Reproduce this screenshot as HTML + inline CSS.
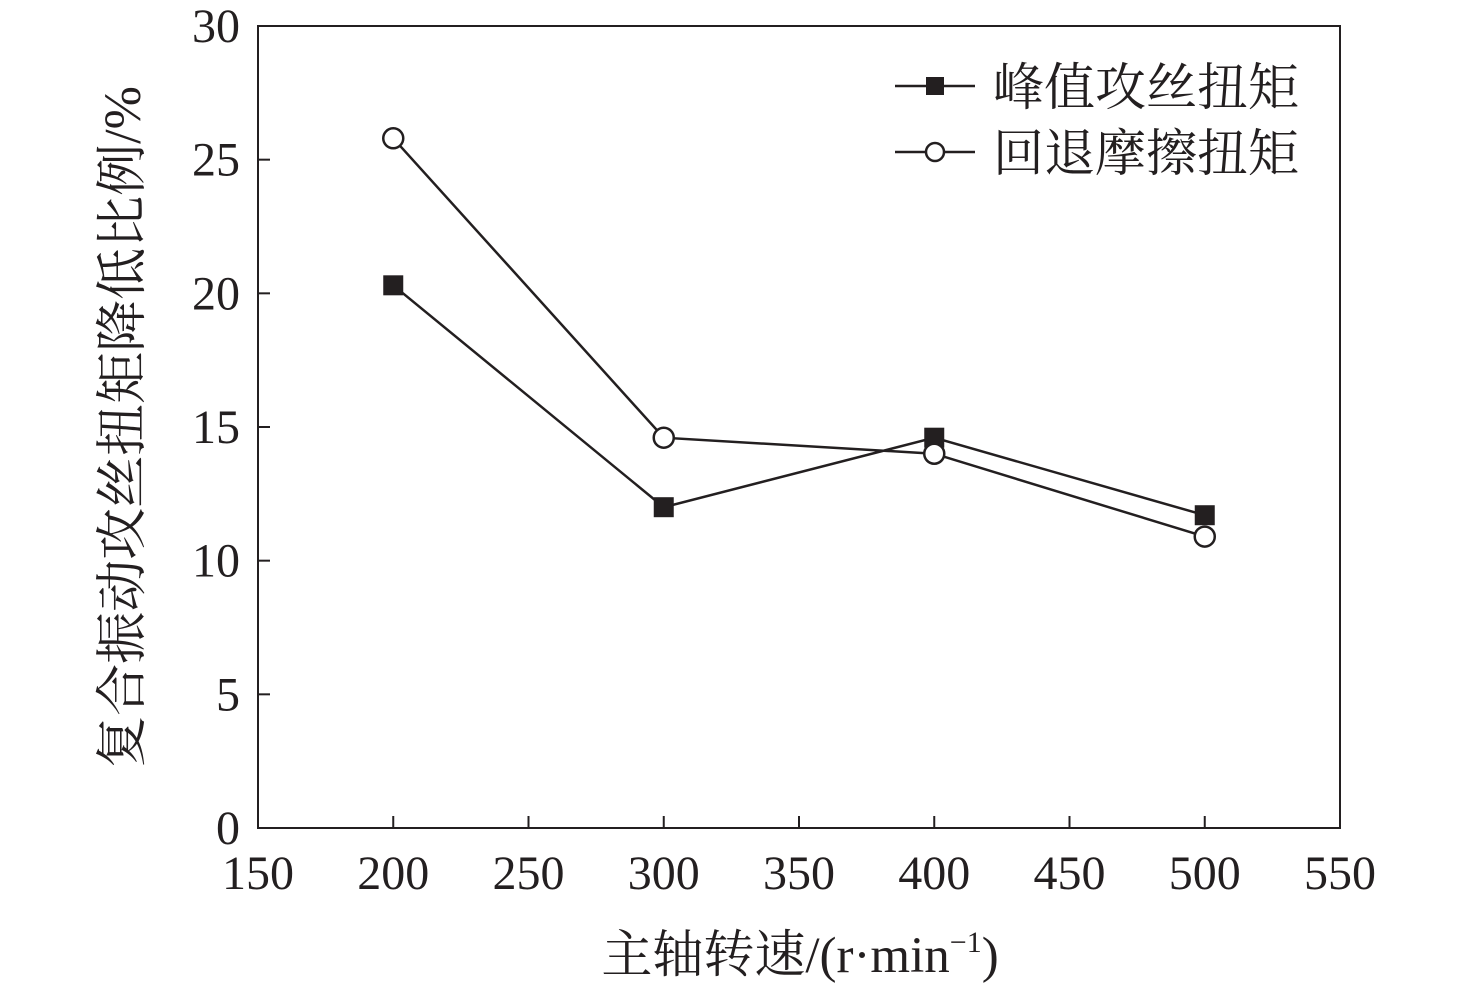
<!DOCTYPE html>
<html><head><meta charset="utf-8"><style>
html,body{margin:0;padding:0;background:#fff;width:1476px;height:989px;overflow:hidden}
text{font-family:"Liberation Serif","Noto Serif CJK SC",serif;fill:#231f20}
</style></head><body>
<svg id="chart" width="1476" height="989" viewBox="0 0 1476 989" xmlns="http://www.w3.org/2000/svg">
<rect x="258" y="26" width="1082" height="802" fill="none" stroke="#231f20" stroke-width="2"/>
<g id="ticks"></g>
<g id="series"></g>
<text x="800" y="972" font-size="51" text-anchor="middle">主轴转速/(r·min<tspan font-size="30" dy="-20">−1</tspan><tspan dy="20">)</tspan></text>
<text transform="translate(140,427) rotate(-90)" font-size="52" text-anchor="middle">复合振动攻丝扭矩降低比例/%</text>
<g>
<g>
<line x1="895" y1="86" x2="975" y2="86" stroke="#231f20" stroke-width="2.5"/>
<rect x="926" y="77" width="18" height="18" fill="#231f20"/>
<text x="993" y="105" font-size="51">峰值攻丝扭矩</text></g>
<g>
<line x1="895" y1="152" x2="975" y2="152" stroke="#231f20" stroke-width="2.5"/>
<circle cx="935" cy="152" r="9" fill="#fff" stroke="#231f20" stroke-width="2.5"/>
<text x="993" y="171" font-size="51">回退摩擦扭矩</text></g>
</g>
</svg>
<script>
const speeds=[200,300,400,500];
const peakTorque=[20.3,12.0,14.6,11.7];
const frictionTorque=[25.8,14.6,14.0,10.9];
const xTicks=[150,200,250,300,350,400,450,500,550];
const yTicks=[0,5,10,15,20,25,30];
const NS="http://www.w3.org/2000/svg";
const X=v=>258+(v-150)/400*1082;
const Y=v=>828-v/30*802;
const tg=document.getElementById('ticks'),sg=document.getElementById('series');
function mk(t,a,p){const e=document.createElementNS(NS,t);for(const k in a)e.setAttribute(k,a[k]);p.appendChild(e);return e;}
xTicks.forEach(v=>{
 const l=mk('line',{x1:X(v),x2:X(v),y1:828,y2:816,stroke:'#231f20','stroke-width':2},tg);
 
 
 const t=mk('text',{x:X(v),y:889,'font-size':48,'text-anchor':'middle'},tg);t.textContent=v;
 
 
});
yTicks.forEach(v=>{
 const l=mk('line',{x1:258,x2:270,y1:Y(v),y2:Y(v),stroke:'#231f20','stroke-width':2},tg);
 
 
 const t=mk('text',{x:240,y:Y(v)+16,'font-size':48,'text-anchor':'end'},tg);t.textContent=v;
 
 
});
function series(vals,name,circle){
 const pl=mk('polyline',{points:speeds.map((s,i)=>X(s)+','+Y(vals[i])).join(' '),fill:'none',stroke:'#231f20','stroke-width':2.5},sg);
 
 
 speeds.forEach((s,i)=>{
  let m;
  if(circle)m=mk('circle',{cx:X(s),cy:Y(vals[i]),r:10,fill:'#fff',stroke:'#231f20','stroke-width':2.5},sg);
  else m=mk('rect',{x:X(s)-10,y:Y(vals[i])-10,width:20,height:20,fill:'#231f20'},sg);
  
  
 });
}
series(peakTorque,'peak-torque',false);
series(frictionTorque,'friction-torque',true);
</script>
</body></html>
